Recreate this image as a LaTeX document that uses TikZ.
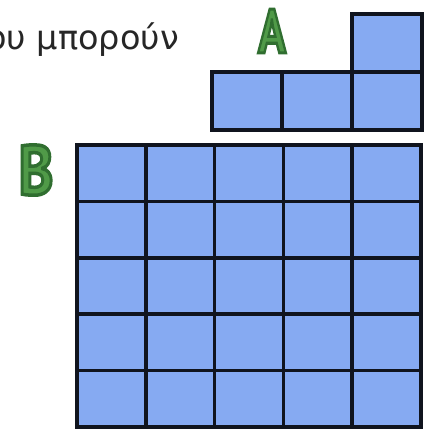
\documentclass[tikz,border=0pt]{standalone}
\usepackage{fontspec}
\usepackage{graphicx}
\setmainfont{DejaVu Sans}
\newfontfamily\letterfont[UprightFont={* Bold},UprightFeatures={FakeBold=5}]{PT Sans}
\definecolor{cellblue}{RGB}{134,170,242}
\definecolor{gridline}{RGB}{16,20,30}
\definecolor{lettergreen}{RGB}{80,154,72}
\tikzset{
  cellbox/.style={fill=cellblue, draw=gridline, line width=3.5pt},
  outerbox/.style={draw=gridline, line width=4.5pt},
  biglabel/.style={inner sep=0pt, text=lettergreen, font=\letterfont},
  caption/.style={inner sep=0pt, font=\fontsize{33.5}{38}\selectfont, text=black!85}
}
\newcommand{\rimcolour}{\special{pdf:literal direct 0.19 0.43 0.19 RG}}
\begin{document}
\begin{tikzpicture}[x=1pt,y=1pt]
\useasboundingbox (0,0) rectangle (424,429);
% text
\node[caption, anchor=base east] (txt) at (179,379) {ου μπορούν};
% letters
\node[biglabel] (A) at (272,398) {\rimcolour\scalebox{0.74}[1]{\fontsize{62}{70}\selectfont A}};
\node[biglabel] (B) at (36,259) {\rimcolour\scalebox{0.84}[1]{\fontsize{70}{80}\selectfont B}};
% shape A
\def\ax{212}\def\aw{70}\def\ay{299}\def\ah{58}
\foreach \i in {0,1,2} {
  \draw[cellbox] (\ax+\i*\aw,\ay) rectangle ++(\aw,\ah);
}
\draw[cellbox] (\ax+2*\aw,\ay+\ah) rectangle ++(\aw,\ah);
\draw[outerbox, line join=miter] (\ax,\ay) -- (\ax+3*\aw,\ay) -- (\ax+3*\aw,\ay+2*\ah) -- (\ax+2*\aw,\ay+2*\ah) -- (\ax+2*\aw,\ay+\ah) -- (\ax,\ay+\ah) -- cycle;
% grid B
\def\bx{77}\def\bw{68.8}\def\by{2}\def\bh{56.4}
\foreach \i in {0,...,4} {
  \foreach \j in {0,...,4} {
    \draw[cellbox] (\bx+\i*\bw,\by+\j*\bh) rectangle ++(\bw,\bh);
  }
}
\draw[outerbox] (\bx,\by) rectangle (\bx+5*\bw,\by+5*\bh);
\end{tikzpicture}
\end{document}
